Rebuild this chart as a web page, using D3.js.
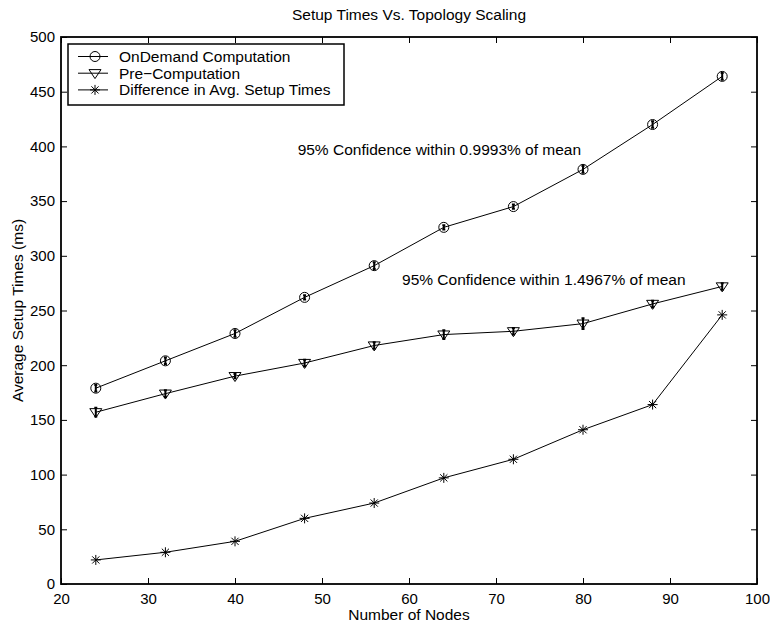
<!DOCTYPE html>
<html>
<head>
<meta charset="utf-8">
<script src="https://cdn.jsdelivr.net/npm/d3@7"></script>
<style>
  body { margin: 0; background: #fff; }
  text { font-family: "Liberation Sans", Arial, sans-serif; fill: #000; }
</style>
</head>
<body>
<div id="chart"></div>
<script>
// data
var nodes = [24, 32, 40, 48, 56, 64, 72, 80, 88, 96];
var onDemand = [179, 204, 229, 262, 291, 326, 345, 379, 420, 464];
var onDemandErr = [3, 3, 3, 2, 3, 2, 2, 3, 3, 3];
var preComp = [157, 174, 190, 202, 218, 228, 231, 238, 256, 272];
var preCompErr = [4, 3, 2, 3, 3, 4, 3, 5, 3, 3];
var diffTimes = [22, 29, 39, 60, 74, 97, 114, 141, 164, 246];
var seriesNames = ["OnDemand Computation", "Pre\u2212Computation", "Difference in Avg. Setup Times"];
var xTicks = [20, 30, 40, 50, 60, 70, 80, 90, 100];
var yTicks = [0, 50, 100, 150, 200, 250, 300, 350, 400, 450, 500];

var svgWidth = 770;
var svgHeight = 625;
var margin = { top: 37, right: 13, bottom: 41, left: 61 };
var width = svgWidth - margin.left - margin.right;
var height = svgHeight - margin.top - margin.bottom;

var svg = d3.select("#chart")
  .append("svg")
    .attr("width", svgWidth)
    .attr("height", svgHeight);

var chartGroup = svg.append("g")
  .attr("transform", `translate(${margin.left}, ${margin.top})`);

var x = d3.scaleLinear().domain([20, 100]).range([0, width]);
var y = d3.scaleLinear().domain([0, 500]).range([height, 0]);

// axes, ticks pointing inward, mirrored on top/right
function styleAxis(g) {
  g.select(".domain").remove();
  g.selectAll("line").attr("stroke", "#000").attr("stroke-width", 1);
  g.selectAll("text").style("font-size", "15px").style("font-family", "Liberation Sans, Arial, sans-serif");
}

chartGroup.append("g")
  .attr("transform", `translate(0, ${height})`)
  .call(d3.axisBottom(x).tickValues(xTicks).tickSizeInner(-6).tickSizeOuter(0).tickPadding(9))
  .call(styleAxis);

chartGroup.append("g")
  .call(d3.axisTop(x).tickValues(xTicks).tickSizeInner(-6).tickSizeOuter(0).tickFormat(""))
  .call(styleAxis);

chartGroup.append("g")
  .call(d3.axisLeft(y).tickValues(yTicks).tickSizeInner(-6).tickSizeOuter(0).tickPadding(6))
  .call(styleAxis);

chartGroup.append("g")
  .attr("transform", `translate(${width}, 0)`)
  .call(d3.axisRight(y).tickValues(yTicks).tickSizeInner(-6).tickSizeOuter(0).tickFormat(""))
  .call(styleAxis);

chartGroup.append("rect")
  .attr("width", width)
  .attr("height", height)
  .attr("fill", "none")
  .attr("stroke", "#000")
  .attr("stroke-width", 1.8);

// marker shapes
function circleMark(g, cx, cy) {
  g.append("circle").attr("cx", cx).attr("cy", cy).attr("r", 5)
    .attr("fill", "none").attr("stroke", "#000").attr("stroke-width", 1);
}
function triMark(g, cx, cy) {
  var s = 6;
  g.append("path")
    .attr("d", `M${cx - s},${cy - s * 0.6}L${cx + s},${cy - s * 0.6}L${cx},${cy + s * 0.9}Z`)
    .attr("fill", "none").attr("stroke", "#000").attr("stroke-width", 1);
}
function starMark(g, cx, cy) {
  var s = 5, d = 3.6;
  g.append("path")
    .attr("d", `M${cx - s},${cy}L${cx + s},${cy}M${cx},${cy - s}L${cx},${cy + s}` +
      `M${cx - d},${cy - d}L${cx + d},${cy + d}M${cx - d},${cy + d}L${cx + d},${cy - d}`)
    .attr("fill", "none").attr("stroke", "#000").attr("stroke-width", 1);
}

var line = d3.line().x(d => x(d[0])).y(d => y(d[1]));

function drawSeries(vals, errs, marker) {
  var pts = nodes.map((n, i) => [n, vals[i]]);
  chartGroup.append("path")
    .datum(pts)
    .attr("d", line)
    .attr("fill", "none")
    .attr("stroke", "#000")
    .attr("stroke-width", 1);
  var g = chartGroup.append("g");
  pts.forEach(function(p, i) {
    if (errs) {
      var e = errs[i];
      var cx = x(p[0]);
      g.append("path")
        .attr("d", `M${cx},${y(p[1] - e)}L${cx},${y(p[1] + e)}` +
          `M${cx - 1.5},${y(p[1] - e)}L${cx + 1.5},${y(p[1] - e)}` +
          `M${cx - 1.5},${y(p[1] + e)}L${cx + 1.5},${y(p[1] + e)}`)
        .attr("stroke", "#000").attr("stroke-width", 2).attr("fill", "none");
    }
    marker(g, x(p[0]), y(p[1]));
  });
}

drawSeries(onDemand, onDemandErr, circleMark);
drawSeries(preComp, preCompErr, triMark);
drawSeries(diffTimes, null, starMark);

// annotations
chartGroup.append("text")
  .attr("x", x(47.2)).attr("y", y(392))
  .style("font-size", "15.5px")
  .text("95% Confidence within 0.9993% of mean");

chartGroup.append("text")
  .attr("x", x(59.2)).attr("y", y(273))
  .style("font-size", "15.5px")
  .text("95% Confidence within 1.4967% of mean");

// legend
var legend = svg.append("g").attr("transform", "translate(68, 44)");
legend.append("rect")
  .attr("width", 276).attr("height", 61)
  .attr("fill", "#fff").attr("stroke", "#000").attr("stroke-width", 1.5);

var markers = [circleMark, triMark, starMark];
seriesNames.forEach(function(name, i) {
  var ly = 12.5 + i * 16.7;
  legend.append("line")
    .attr("x1", 10).attr("x2", 40).attr("y1", ly).attr("y2", ly)
    .attr("stroke", "#000").attr("stroke-width", 1);
  markers[i](legend, 27, ly);
  legend.append("text")
    .attr("x", 51).attr("y", ly + 5.5)
    .style("font-size", "15.5px")
    .text(name);
});

// title and axis labels
svg.append("text")
  .attr("x", margin.left + width / 2).attr("y", 20)
  .attr("text-anchor", "middle")
  .style("font-size", "15.5px")
  .text("Setup Times Vs. Topology Scaling");

svg.append("text")
  .attr("x", margin.left + width / 2).attr("y", 620)
  .attr("text-anchor", "middle")
  .style("font-size", "15.5px")
  .text("Number of Nodes");

svg.append("text")
  .attr("transform", "rotate(-90)")
  .attr("x", -(margin.top + height / 2)).attr("y", 23)
  .attr("text-anchor", "middle")
  .style("font-size", "15.5px")
  .text("Average Setup Times (ms)");
</script>
</body>
</html>
